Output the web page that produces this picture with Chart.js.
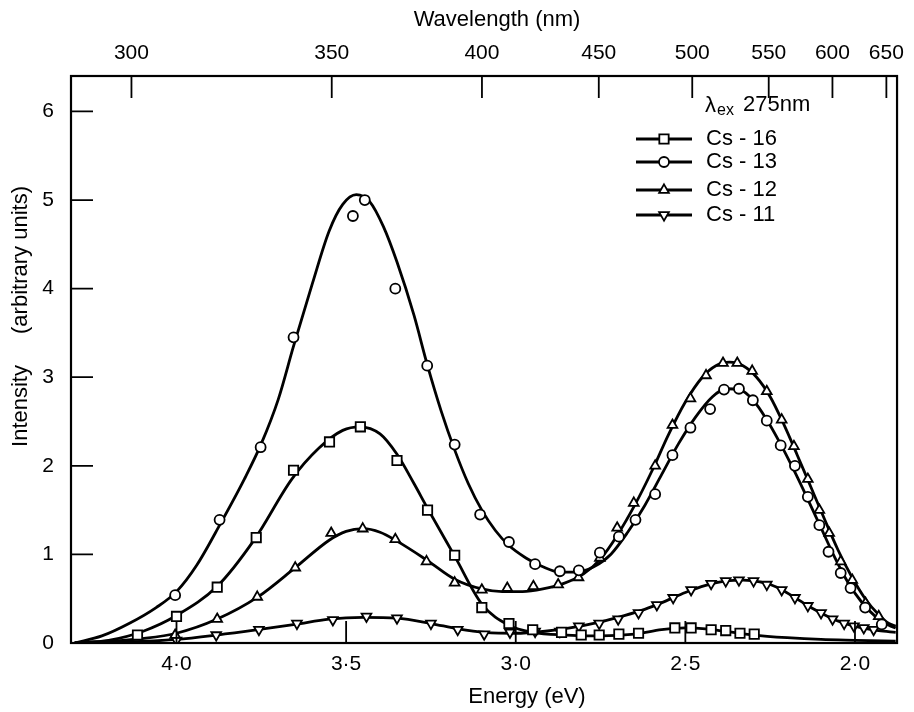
<!DOCTYPE html>
<html>
<head>
<meta charset="utf-8">
<script src="https://cdn.jsdelivr.net/npm/chart.js@4.4.1/dist/chart.umd.min.js"></script>
<style>
  html, body { margin: 0; padding: 0; background: #fff; }
</style>
</head>
<body>
<canvas id="myChart" width="914" height="712"></canvas>
<script>
// measured points (energy in eV, intensity in arbitrary units)
const cs16E = [4.115, 4.00, 3.88, 3.765, 3.655, 3.549, 3.458, 3.35, 3.26, 3.18, 3.10, 3.02, 2.95, 2.865, 2.807, 2.754, 2.696, 2.638, 2.531, 2.483, 2.424, 2.381, 2.339, 2.297];
const cs16I = [0.09, 0.30, 0.63, 1.19, 1.95, 2.27, 2.44, 2.06, 1.50, 0.99, 0.40, 0.22, 0.15, 0.12, 0.09, 0.09, 0.10, 0.11, 0.17, 0.17, 0.15, 0.14, 0.11, 0.10];

const cs13E = [4.004, 3.873, 3.752, 3.655, 3.48, 3.445, 3.355, 3.261, 3.18, 3.105, 3.02, 2.943, 2.87, 2.814, 2.752, 2.696, 2.647, 2.589, 2.538, 2.485, 2.427, 2.386, 2.342, 2.301, 2.26, 2.219, 2.177, 2.139, 2.105, 2.078, 2.042, 2.013, 1.97, 1.921];
const cs13I = [0.54, 1.39, 2.21, 3.45, 4.82, 5.00, 4.00, 3.13, 2.24, 1.45, 1.14, 0.89, 0.81, 0.82, 1.02, 1.20, 1.39, 1.68, 2.12, 2.43, 2.64, 2.86, 2.87, 2.74, 2.51, 2.23, 2.00, 1.65, 1.33, 1.03, 0.79, 0.62, 0.40, 0.21];

const cs12E = [4.004, 3.88, 3.762, 3.650, 3.544, 3.451, 3.355, 3.263, 3.18, 3.10, 3.025, 2.948, 2.875, 2.815, 2.752, 2.701, 2.652, 2.589, 2.538, 2.485, 2.439, 2.389, 2.347, 2.303, 2.260, 2.216, 2.180, 2.139, 2.105, 2.076, 2.042, 2.008, 1.969, 1.93];
const cs12I = [0.09, 0.27, 0.52, 0.85, 1.24, 1.29, 1.17, 0.92, 0.68, 0.60, 0.62, 0.64, 0.66, 0.74, 0.96, 1.30, 1.58, 2.00, 2.46, 2.76, 3.02, 3.16, 3.16, 3.07, 2.84, 2.52, 2.22, 1.85, 1.50, 1.24, 0.92, 0.71, 0.45, 0.30];

const cs11E = [4.00, 3.883, 3.757, 3.645, 3.539, 3.44, 3.35, 3.25, 3.171, 3.093, 3.017, 2.943, 2.87, 2.814, 2.754, 2.698, 2.638, 2.584, 2.536, 2.483, 2.424, 2.381, 2.342, 2.299, 2.260, 2.216, 2.177, 2.139, 2.100, 2.066, 2.032, 2.003, 1.974, 1.945];
const cs11I = [0.03, 0.09, 0.15, 0.22, 0.26, 0.30, 0.28, 0.22, 0.15, 0.10, 0.12, 0.13, 0.13, 0.19, 0.22, 0.27, 0.34, 0.43, 0.51, 0.60, 0.67, 0.70, 0.71, 0.70, 0.66, 0.60, 0.51, 0.42, 0.34, 0.27, 0.22, 0.19, 0.17, 0.15];

// fitted curves
const fit16E = [4.30, 4.20, 4.10, 4.00, 3.88, 3.77, 3.66, 3.58, 3.51, 3.46, 3.40, 3.35, 3.30, 3.26, 3.18, 3.10, 3.02, 2.95, 2.85, 2.75, 2.65, 2.57, 2.50, 2.44, 2.38, 2.30, 2.20, 2.10, 2.00, 1.88];
const fit16I = [0, 0.03, 0.13, 0.31, 0.64, 1.17, 1.85, 2.20, 2.40, 2.44, 2.36, 2.13, 1.80, 1.52, 0.98, 0.44, 0.20, 0.12, 0.09, 0.08, 0.10, 0.15, 0.17, 0.16, 0.13, 0.09, 0.06, 0.04, 0.03, 0.02];

const fit13E = [4.30, 4.22, 4.14, 4.06, 4.00, 3.94, 3.87, 3.80, 3.75, 3.70, 3.655, 3.60, 3.55, 3.51, 3.47, 3.43, 3.39, 3.35, 3.30, 3.26, 3.22, 3.18, 3.14, 3.10, 3.06, 3.02, 2.97, 2.92, 2.87, 2.82, 2.77, 2.72, 2.67, 2.62, 2.57, 2.52, 2.47, 2.42, 2.38, 2.34, 2.30, 2.26, 2.22, 2.18, 2.14, 2.10, 2.06, 2.02, 1.98, 1.94, 1.90, 1.88];
const fit13I = [0, 0.08, 0.22, 0.40, 0.58, 0.88, 1.35, 1.85, 2.25, 2.75, 3.35, 4.05, 4.65, 4.95, 5.06, 4.98, 4.70, 4.30, 3.70, 3.13, 2.62, 2.18, 1.80, 1.50, 1.27, 1.10, 0.96, 0.86, 0.80, 0.80, 0.86, 1.00, 1.25, 1.55, 1.90, 2.25, 2.55, 2.78, 2.87, 2.86, 2.74, 2.52, 2.25, 1.95, 1.63, 1.30, 0.97, 0.68, 0.46, 0.30, 0.20, 0.17];

const fit12E = [4.30, 4.20, 4.10, 4.00, 3.88, 3.76, 3.65, 3.55, 3.50, 3.45, 3.40, 3.35, 3.26, 3.18, 3.10, 3.04, 2.98, 2.92, 2.86, 2.80, 2.75, 2.70, 2.65, 2.60, 2.55, 2.50, 2.45, 2.41, 2.37, 2.33, 2.29, 2.25, 2.21, 2.17, 2.13, 2.09, 2.05, 2.01, 1.97, 1.93, 1.90, 1.88];
const fit12I = [0, 0.02, 0.05, 0.11, 0.27, 0.52, 0.85, 1.16, 1.26, 1.29, 1.25, 1.15, 0.93, 0.72, 0.61, 0.58, 0.58, 0.61, 0.67, 0.78, 0.95, 1.22, 1.55, 1.93, 2.35, 2.72, 3.00, 3.13, 3.17, 3.13, 3.00, 2.78, 2.47, 2.12, 1.76, 1.40, 1.05, 0.75, 0.50, 0.32, 0.22, 0.19];

const fit11E = [4.30, 4.15, 4.00, 3.88, 3.76, 3.65, 3.55, 3.45, 3.35, 3.25, 3.17, 3.09, 3.00, 2.92, 2.84, 2.76, 2.68, 2.62, 2.56, 2.50, 2.44, 2.38, 2.33, 2.28, 2.23, 2.18, 2.13, 2.08, 2.03, 1.98, 1.93, 1.88];
const fit11I = [0, 0.01, 0.04, 0.09, 0.15, 0.21, 0.27, 0.29, 0.28, 0.22, 0.16, 0.12, 0.11, 0.13, 0.17, 0.23, 0.31, 0.38, 0.47, 0.57, 0.65, 0.70, 0.71, 0.69, 0.63, 0.52, 0.40, 0.30, 0.22, 0.17, 0.14, 0.12];

const energyTicks = [4.0, 3.5, 3.0, 2.5, 2.0];
const intensityTicks = [0, 1, 2, 3, 4, 5, 6];
const wavelengthTicks = [300, 350, 400, 450, 500, 550, 600, 650];
const seriesNames = ['Cs - 16', 'Cs - 13', 'Cs - 12', 'Cs - 11'];

const FONT = "'Liberation Sans', Arial, sans-serif";

function pts(xs, ys) {
    return xs.map((x, i) => ({ x: x, y: ys[i] }));
}

const markerStyles = [
    { pointStyle: 'rect', radius: 6.6, rotation: 0 },
    { pointStyle: 'circle', radius: 5, rotation: 0 },
    { pointStyle: 'triangle', radius: 5.6, rotation: 0 },
    { pointStyle: 'triangle', radius: 5.6, rotation: 180 }
];

const markerData = [pts(cs16E, cs16I), pts(cs13E, cs13I), pts(cs12E, cs12I), pts(cs11E, cs11I)];
const fitData = [pts(fit16E, fit16I), pts(fit13E, fit13I), pts(fit12E, fit12I), pts(fit11E, fit11I)];

const datasets = [];
for (let i = 0; i < 4; i++) {
    datasets.push({
        label: seriesNames[i] + ' fit',
        data: fitData[i],
        showLine: true,
        borderColor: '#000',
        borderWidth: 2.8,
        pointRadius: 0,
        cubicInterpolationMode: 'monotone',
        order: 2
    });
}
for (let i = 0; i < 4; i++) {
    datasets.push({
        label: seriesNames[i],
        data: markerData[i],
        showLine: false,
        pointStyle: markerStyles[i].pointStyle,
        pointRadius: markerStyles[i].radius,
        pointRotation: markerStyles[i].rotation,
        pointBackgroundColor: '#fff',
        pointBorderColor: '#000',
        pointBorderWidth: 1.8,
        order: 1
    });
}

// ticks pointing into the plot, frame, titles and legend
const decorations = {
    id: 'decorations',
    afterDatasetsDraw(chart) {
        const ctx = chart.ctx;
        const a = chart.chartArea;
        const x = chart.scales.x, y = chart.scales.y;
        ctx.save();
        ctx.strokeStyle = '#000';
        ctx.lineWidth = 2.2;
        ctx.strokeRect(a.left, a.top, a.right - a.left, a.bottom - a.top);

        ctx.lineWidth = 1.8;
        ctx.beginPath();
        intensityTicks.forEach(v => {
            if (v === 0) return;
            const py = y.getPixelForValue(v);
            ctx.moveTo(a.left, py); ctx.lineTo(a.left + 22, py);
        });
        energyTicks.forEach(v => {
            const px = x.getPixelForValue(v);
            ctx.moveTo(px, a.bottom); ctx.lineTo(px, a.bottom - 22);
        });
        wavelengthTicks.forEach(l => {
            const px = x.getPixelForValue(1239.84 / l);
            ctx.moveTo(px, a.top); ctx.lineTo(px, a.top + 22);
        });
        ctx.stroke();

        // axis titles
        ctx.fillStyle = '#000';
        ctx.textAlign = 'center';
        ctx.textBaseline = 'middle';
        ctx.font = '22px ' + FONT;
        ctx.fillText('Energy (eV)', 527, 697);
        ctx.fillText('Wavelength (nm)', 497, 20);
        ctx.save();
        ctx.translate(21, 0);
        ctx.rotate(-Math.PI / 2);
        ctx.fillText('Intensity', -406, 0);
        ctx.fillText('(arbitrary units)', -260, 0);
        ctx.restore();

        // legend
        ctx.textAlign = 'left';
        ctx.font = '22px ' + FONT;
        ctx.fillText('\u03bb', 705, 106);
        ctx.font = '16px ' + FONT;
        ctx.fillText('ex', 717, 111);
        ctx.font = '22px ' + FONT;
        ctx.fillText('275nm', 743, 105);

        const rows = [139, 162, 190, 215];
        ctx.font = '22px ' + FONT;
        rows.forEach((ry, i) => {
            ctx.lineWidth = 2.8;
            ctx.strokeStyle = '#000';
            ctx.beginPath();
            ctx.moveTo(636, ry); ctx.lineTo(692, ry);
            ctx.stroke();
            ctx.fillStyle = '#fff';
            ctx.lineWidth = 1.8;
            Chart.helpers.drawPoint(ctx, {
                pointStyle: markerStyles[i].pointStyle,
                radius: markerStyles[i].radius,
                rotation: markerStyles[i].rotation,
                borderWidth: 1.8
            }, 664, ry);
            ctx.fillStyle = '#000';
            ctx.fillText(seriesNames[i], 706, ry);
        });
        ctx.restore();
    }
};

const config = {
    type: 'scatter',
    data: { datasets: datasets },
    options: {
        responsive: false,
        animation: false,
        layout: { padding: { left: 0, right: 5, top: 0, bottom: 0 } },
        plugins: { legend: { display: false }, tooltip: { enabled: false } },
        scales: {
            x: {
                type: 'linear',
                position: 'bottom',
                reverse: true,
                min: 1.876,
                max: 4.311,
                grid: { display: false, drawTicks: false },
                border: { display: false },
                afterBuildTicks: s => { s.ticks = energyTicks.map(v => ({ value: v })); },
                afterFit: s => { s.height = 69; },
                ticks: {
                    color: '#000',
                    padding: 9,
                    font: { family: FONT, size: 21 },
                    callback: v => v.toFixed(1).replace('.', '\u00b7')
                }
            },
            x2: {
                type: 'linear',
                position: 'top',
                reverse: true,
                min: 1.876,
                max: 4.311,
                grid: { display: false, drawTicks: false },
                border: { display: false },
                afterBuildTicks: s => { s.ticks = wavelengthTicks.map(l => ({ value: 1239.84 / l })); },
                afterFit: s => { s.height = 76; },
                ticks: {
                    color: '#000',
                    padding: 10,
                    autoSkip: false,
                    maxRotation: 0,
                    font: { family: FONT, size: 21 },
                    callback: v => String(Math.round(1239.84 / v))
                }
            },
            y: {
                type: 'linear',
                min: 0,
                max: 6.4,
                grid: { display: false, drawTicks: false },
                border: { display: false },
                afterBuildTicks: s => { s.ticks = intensityTicks.map(v => ({ value: v })); },
                afterFit: s => { s.width = 71; },
                ticks: {
                    color: '#000',
                    padding: 17,
                    font: { family: FONT, size: 21 }
                }
            }
        }
    },
    plugins: [decorations]
};

const myChart = new Chart(document.getElementById('myChart'), config);
</script>
</body>
</html>
